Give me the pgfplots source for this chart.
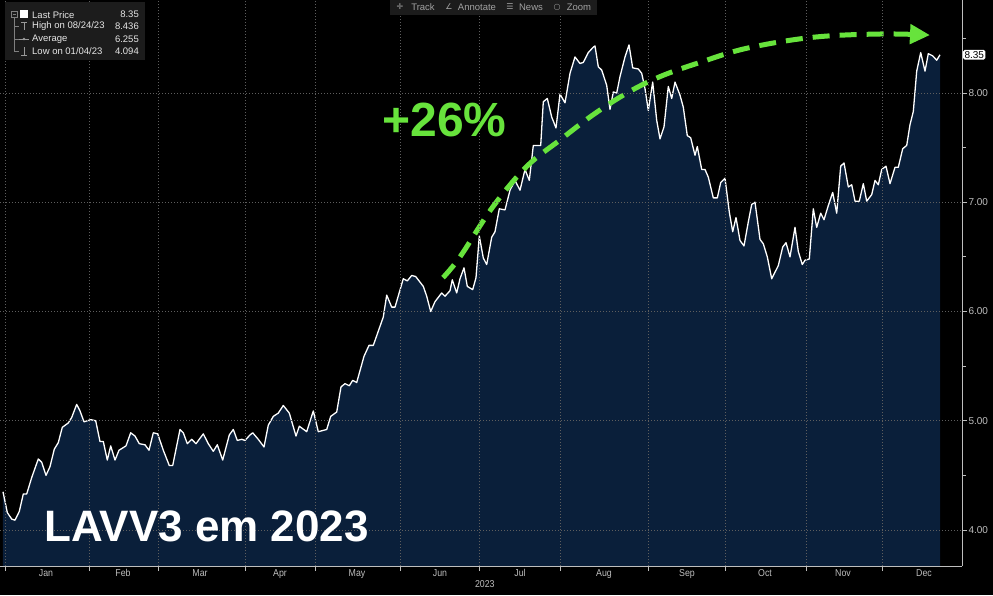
\documentclass[border=0pt]{standalone}
\usepackage{fontspec}
\setmainfont{Liberation Sans}
\newfontfamily\condfont[FakeStretch=0.88]{Liberation Sans}
\newfontfamily\symfont{DejaVu Sans}
\usepackage{pgfplots}
\pgfplotsset{compat=1.18}
\usepackage{pgfplotstable}
\usetikzlibrary{arrows.meta}

\definecolor{bgnavy}{HTML}{0A1F3A}
\definecolor{gridgray}{HTML}{5E5E5E}
\definecolor{ticktext}{HTML}{BEBEBE}
\definecolor{callgreen}{HTML}{67E33C}
\definecolor{panel}{HTML}{1C1C1C}
\definecolor{legtext}{HTML}{E6E6E6}

% position along the time axis (chart pixels), closing price in BRL
\pgfplotstableread{
pos price
3 4.35
7.3 4.16
11.7 4.10
15.0 4.09
19.3 4.17
23.3 4.33
26.7 4.33
31.7 4.48
38.3 4.65
41.7 4.62
46.0 4.50
50.0 4.58
54.3 4.74
58.3 4.80
62.3 4.94
68.3 4.98
71.7 5.03
76.7 5.15
80.0 5.09
84.0 4.99
90.7 5.01
95.7 5.00
100.0 4.81
103.3 4.81
107.3 4.64
110.7 4.77
115.0 4.64
119.0 4.73
126.0 4.77
130.7 4.89
135.0 4.86
139.3 4.79
145.0 4.78
149.0 4.73
153.3 4.89
157.7 4.88
163.3 4.73
169.3 4.59
172.7 4.59
180.0 4.92
183.3 4.89
187.3 4.79
191.7 4.83
196.0 4.79
203.3 4.88
208.3 4.79
213.3 4.72
217.3 4.78
222.7 4.64
229.3 4.87
233.3 4.92
237.3 4.82
241.7 4.83
245.0 4.82
250.0 4.87
252.7 4.89
258.3 4.83
264.0 4.76
268.3 4.96
273.3 5.04
278.3 5.07
283.3 5.14
289.3 5.07
296.0 4.86
299.3 4.95
306.7 4.90
313.3 5.09
318.3 4.90
326.7 4.92
330.7 5.04
336.7 5.08
341.0 5.31
345.0 5.34
349.3 5.32
352.7 5.37
356.7 5.35
364.0 5.59
369.0 5.69
373.3 5.69
383.3 5.95
386.7 6.15
391.7 6.04
395.0 6.04
403.3 6.30
407.3 6.28
411.7 6.33
415.7 6.32
423.3 6.23
426.7 6.14
430.7 6.00
435.0 6.09
441.7 6.17
445.0 6.14
450.0 6.19
452.3 6.29
456.7 6.17
460.0 6.30
464.0 6.40
467.3 6.23
472.7 6.20
476.0 6.31
479.3 6.69
483.3 6.49
486.7 6.43
491.7 6.68
495.0 6.73
499.3 6.94
505.0 6.93
510.0 7.11
515.0 7.20
520.0 7.11
525.0 7.30
529.3 7.20
533.3 7.52
540.7 7.52
543.3 7.92
547.3 7.95
551.7 7.78
556.0 7.68
560.0 7.99
565.0 7.91
570.0 8.18
575.0 8.33
580.0 8.27
583.3 8.28
588.3 8.37
593.3 8.42
595.0 8.43
598.3 8.24
601.7 8.21
606.7 8.07
610.0 7.85
613.3 8.01
616.7 8.00
620.0 8.15
625.0 8.33
629.0 8.44
632.7 8.23
638.3 8.22
641.7 8.18
645.0 8.04
648.3 7.84
652.7 8.10
656.7 7.75
660.0 7.58
664.0 7.69
668.3 8.06
671.7 7.95
675.0 8.10
680.0 7.98
683.3 7.87
687.3 7.61
690.7 7.59
695.0 7.43
697.3 7.51
701.7 7.30
705.0 7.30
708.3 7.23
713.3 7.04
717.3 7.04
720.7 7.18
725.0 7.22
729.3 6.91
732.7 6.73
736.0 6.86
740.0 6.65
744.0 6.60
748.3 6.82
751.7 6.98
755.0 7.00
760.0 6.66
763.3 6.62
767.3 6.50
771.7 6.30
778.3 6.42
782.7 6.59
786.0 6.63
790.0 6.50
795.0 6.77
798.3 6.55
802.3 6.43
805.0 6.47
809.3 6.48
813.3 6.94
816.7 6.77
820.7 6.90
824.0 6.84
828.3 6.97
832.7 7.09
836.7 6.90
840.7 7.33
844.0 7.36
848.3 7.14
851.7 7.16
855.0 7.01
859.3 7.01
863.3 7.17
866.7 7.01
871.7 7.07
875.0 7.20
878.3 7.16
881.7 7.30
886.0 7.33
890.0 7.17
895.0 7.32
898.3 7.32
902.7 7.49
906.7 7.52
910.0 7.71
913.3 7.83
916.7 8.20
920.7 8.37
925.0 8.20
928.3 8.36
932.7 8.34
936.7 8.30
940.0 8.35
}\pricedata

\begin{document}
\begin{tikzpicture}[x=1pt, y=1pt]
\useasboundingbox (0,0) rectangle (993,595);
\fill[black] (0,0) rectangle (993,595);

\begin{axis}[
  at={(0pt,29pt)}, anchor=south west,
  scale only axis, width=962pt, height=566pt,
  xmin=0, xmax=962, ymin=3.6705, ymax=8.8513,
  axis x line*=bottom, axis y line*=right,
  axis line style={ticktext, line width=0.8pt},
  tick style={ticktext, line width=0.8pt},
  tick align=outside,
  major tick length=5pt, minor tick length=4pt,
  axis on top,
  xmajorgrids, ymajorgrids,
  major grid style={gridgray, dash pattern=on 1pt off 2pt, line width=0.6pt},
  xtick={5,89,158,245,315,400,479,560,648,725,806,882},
  xticklabels={},
  extra x ticks={46,123,200,280,357,440,520,604,687,765,843,924},
  extra x tick labels={Jan,Feb,Mar,Apr,May,Jun,Jul,Aug,Sep,Oct,Nov,Dec},
  extra x tick style={grid=none, major tick length=0pt},
  xticklabel style={font=\condfont\fontsize{10}{12}\selectfont, text=ticktext},
  xlabel={2023},
  xlabel style={at={(axis description cs:0.504,-0.032)}, anchor=center,
    font=\condfont\fontsize{10}{12}\selectfont, text=ticktext},
  ytick={4,5,6,7,8},
  minor ytick={4.5,5.5,6.5,7.5,8.5},
  y tick label style={/pgf/number format/fixed, /pgf/number format/fixed zerofill,
    /pgf/number format/precision=2, /pgf/number format/assume math mode=true},
  yticklabel style={font=\fontsize{10}{12}\selectfont, text=ticktext, xshift=-2pt},
  extra y ticks={8.35},
  extra y tick labels={8.35},
  extra y tick style={grid=none, major tick length=0pt,
    yticklabel style={fill=white, text=black, inner sep=1.3pt, rounded corners=1.5pt, xshift=3pt}},
]
\addplot[fill=bgnavy, draw=none] table[x=pos, y=price] {\pricedata} \closedcycle;
\addplot[white, line width=1.3pt, line join=round] table[x=pos, y=price] {\pricedata};

\draw[callgreen, line width=5pt, dash pattern=on 17pt off 10pt,
      -{Triangle[length=20pt, width=19pt]}]
  plot[smooth, tension=0.6] coordinates {
    (axis cs:443,6.31) (axis cs:460,6.50) (axis cs:493,6.96) (axis cs:527,7.33)
    (axis cs:560,7.57) (axis cs:593,7.80) (axis cs:627,8.00) (axis cs:660,8.15)
    (axis cs:700,8.28) (axis cs:747,8.41) (axis cs:813,8.51) (axis cs:880,8.54)
    (axis cs:930,8.53)};
\end{axis}

% annotations
\node[text=callgreen, font=\bfseries\fontsize{48}{52}\selectfont] at (444.5,475) {+26\%};
\node[text=white, font=\bfseries\fontsize{44}{50}\selectfont] at (206.5,69) {LAVV3 em 2023};

% legend panel
\fill[panel] (5,535) rectangle (145,593);
\begin{scope}[font=\fontsize{9.5}{11}\selectfont, text=legtext]
  \draw[gray, line width=0.5pt] (11,578) rectangle (17,584);
  \draw[gray, line width=0.5pt] (12.5,581) -- (15.5,581);
  \draw[gray, line width=0.5pt] (14,578) -- (14,544) (14,569) -- (19,569) (14,556) -- (19,556) (14,544) -- (19,544);
  \fill[white] (20,577) rectangle (27.5,584.5);
  \draw[gray!80, line width=0.6pt] (21,573) -- (27,573) (24,573) -- (24,565);
  \draw[gray!80, line width=0.6pt] (19,556) -- (29,556);
  \fill[gray!80] (24,556) circle (1.3pt);
  \draw[gray!80, line width=0.6pt] (21,540) -- (27,540) (24,540) -- (24,548);
  \node[anchor=west, inner sep=0] at (32,580.3) {Last Price};
  \node[anchor=east, inner sep=0] at (139,580.3) {8.35};
  \node[anchor=west, inner sep=0] at (32,569) {High on 08/24/23};
  \node[anchor=east, inner sep=0] at (139,569) {8.436};
  \node[anchor=west, inner sep=0] at (32,556) {Average};
  \node[anchor=east, inner sep=0] at (139,556) {6.255};
  \node[anchor=west, inner sep=0] at (32,544) {Low on 01/04/23};
  \node[anchor=east, inner sep=0] at (139,544) {4.094};
\end{scope}

% toolbar
\fill[panel] (390,580) rectangle (597,595);
\begin{scope}[font=\fontsize{9.5}{11}\selectfont, text=ticktext!85!black]
  \node[font=\symfont\fontsize{8}{9}\selectfont] at (400,588) {✛};
  \node at (423,588) {Track};
  \node[font=\symfont\fontsize{8}{9}\selectfont] at (449,588) {∠};
  \node at (477,588) {Annotate};
  \node[font=\symfont\fontsize{8}{9}\selectfont] at (510,588) {☰};
  \node at (531,588) {News};
  \node[font=\symfont\fontsize{8}{9}\selectfont] at (557,588) {○};
  \node at (579,588) {Zoom};
\end{scope}
\end{tikzpicture}
\end{document}
